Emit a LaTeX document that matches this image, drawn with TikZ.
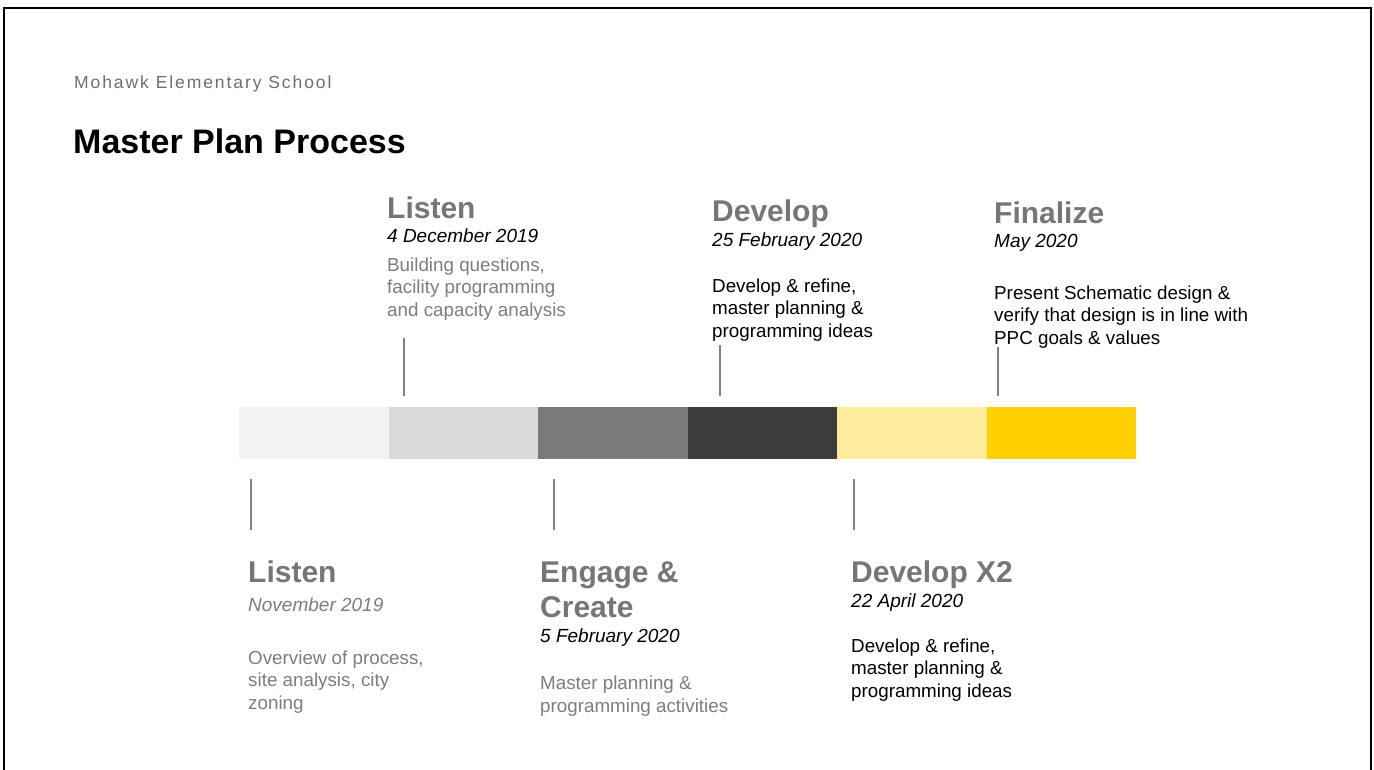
\documentclass[tikz,border=0pt]{standalone}
\usepackage{fontspec}
\setmainfont{Liberation Sans}
\usepackage{xcolor}
\usetikzlibrary{positioning,calc}
\definecolor{headgray}{RGB}{118,118,118}
\definecolor{descgray}{RGB}{125,125,125}
\definecolor{schoolgray}{RGB}{110,110,110}
\definecolor{segA}{RGB}{242,242,242}
\definecolor{segB}{RGB}{217,217,217}
\definecolor{segC}{RGB}{122,122,122}
\definecolor{segD}{RGB}{61,61,61}
\definecolor{segE}{RGB}{255,235,156}
\definecolor{segF}{RGB}{255,208,0}

\begin{document}
\begin{tikzpicture}[
  x=1pt, y=-1pt,
  seg/.style={rectangle, inner sep=0, outer sep=0, minimum width=149.5pt, minimum height=52pt, anchor=north west},
  head/.style={anchor=base west, inner sep=0, font=\fontsize{30}{35}\selectfont\bfseries, text=headgray, align=left},
  when/.style={anchor=base west, inner sep=0, font=\fontsize{19}{22}\selectfont\itshape},
  desc/.style={anchor=base west, inner sep=0, font=\fontsize{18.8}{22.5}\selectfont, align=left},
  tick/.style={draw=gray, line width=1.2pt},
]
\useasboundingbox (0,0) rectangle (1374,769);
% frame
\draw[line width=2.2pt] (4,790) -- (4,8) -- (1371,8) -- (1371,790);

\node[anchor=base west, inner sep=0, text=schoolgray,
  font=\fontsize{17.5}{20}\selectfont\addfontfeature{LetterSpace=11}] (school) at (74,88) {Mohawk Elementary School};
\node[anchor=base west, inner sep=0, font=\fontsize{34}{40}\selectfont\bfseries] (title) at (73,153) {Master Plan Process};

% timeline bar
\node[seg, fill=segA] (s1) at (239,407) {};
\node[seg, fill=segB] (s2) at (s1.north east) {};
\node[seg, fill=segC] (s3) at (s2.north east) {};
\node[seg, fill=segD] (s4) at (s3.north east) {};
\node[seg, fill=segE] (s5) at (s4.north east) {};
\node[seg, fill=segF] (s6) at (s5.north east) {};

% upper stages (multi-line nodes sit on their last baseline)
\node[head] (listenB) at (387,218) {Listen};
\node[when] (listenBdate) at (387,242) {4 December 2019};
\node[desc, text=descgray] (listenBtxt) at (387,316) {Building questions,\\facility programming\\and capacity analysis};

\node[head] (dev) at (712,221) {Develop};
\node[when] (devdate) at (712,246) {25 February 2020};
\node[desc] (devtxt) at (712,337) {Develop \& refine,\\master planning \&\\programming ideas};

\node[head] (fin) at (994,223) {Finalize};
\node[when] (findate) at (994,247) {May 2020};
\node[desc] (fintxt) at (994,344) {Present Schematic design \&\\verify that design is in line with\\PPC goals \& values};

% lower stages
\node[head] (listenA) at (248,582) {Listen};
\node[when, text=descgray] (listenAdate) at (248,611) {November 2019};
\node[desc, text=descgray] (listenAtxt) at (248,709) {Overview of process,\\site analysis, city\\zoning};

\node[head] (eng) at (540,617) {Engage \&\\Create};
\node[when] (engdate) at (540,642) {5 February 2020};
\node[desc, text=descgray] (engtxt) at (540,712) {Master planning \&\\programming activities};

\node[head] (devX) at (851,582) {Develop X2};
\node[when] (devXdate) at (851,607) {22 April 2020};
\node[desc] (devXtxt) at (851,697) {Develop \& refine,\\master planning \&\\programming ideas};

% ticks
\coordinate (tkB1) at (404,338); \coordinate (tkB2) at (404,396);
\coordinate (tkD1) at (720,345); \coordinate (tkD2) at (720,396);
\coordinate (tkF1) at (998,347); \coordinate (tkF2) at (998,396);
\coordinate (tkA1) at (251,479); \coordinate (tkA2) at (251,530);
\coordinate (tkE1) at (554,479); \coordinate (tkE2) at (554,530);
\coordinate (tkX1) at (854,479); \coordinate (tkX2) at (854,530);
\draw[tick] (tkB1) -- (tkB2);
\draw[tick] (tkD1) -- (tkD2);
\draw[tick] (tkF1) -- (tkF2);
\draw[tick] (tkA1) -- (tkA2);
\draw[tick] (tkE1) -- (tkE2);
\draw[tick] (tkX1) -- (tkX2);
\end{tikzpicture}
\end{document}
